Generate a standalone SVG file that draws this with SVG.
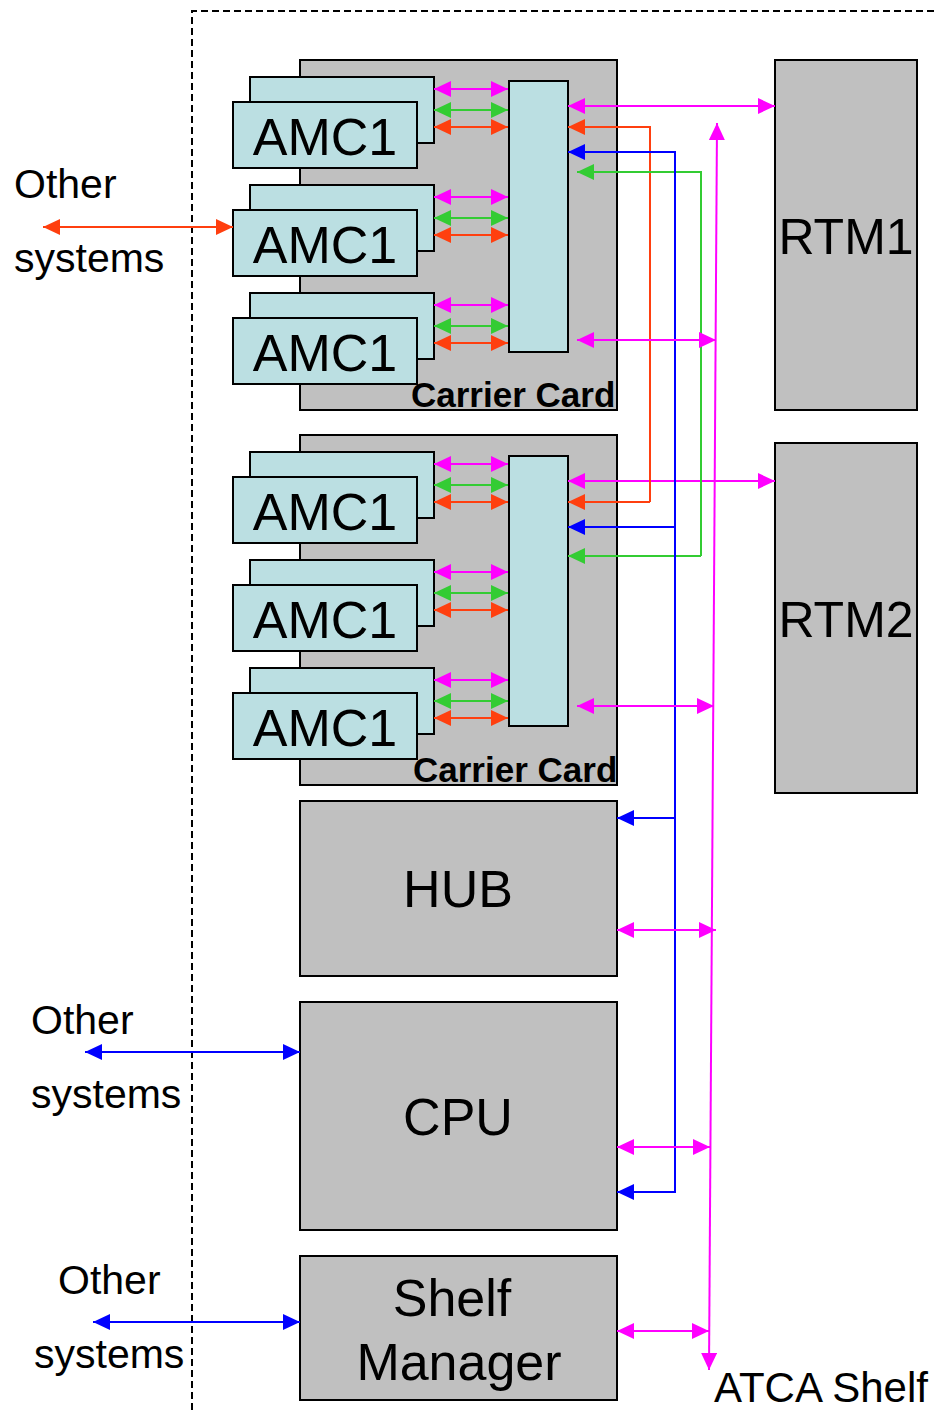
<svg xmlns="http://www.w3.org/2000/svg" width="935" height="1410" viewBox="0 0 935 1410">
  <style>
    .card { fill: #C0C0C0; stroke: #000; stroke-width: 2; }
    .amc { fill: #BBDFE2; stroke: #000; stroke-width: 2; }
    .lbl { font-family: "Liberation Sans", Arial, sans-serif; fill: #000; }
    .big { font-size: 52px; text-anchor: middle; }
    .rtm { font-size: 50px; text-anchor: middle; }
    .amct { font-size: 52px; text-anchor: middle; }
    .cc { font-size: 35px; font-weight: bold; }
    .side { font-size: 41px; }
    .atca { font-size: 42px; }
    .w { fill: none; stroke-width: 2; }
    .m { stroke: #FF00FF; }
    .g { stroke: #33CC33; }
    .r { stroke: #FF3F0F; }
    .b { stroke: #0000FF; }
  </style>
  <defs>
    <marker id="hm" markerUnits="userSpaceOnUse" markerWidth="18" markerHeight="18" refX="17" refY="8" orient="auto-start-reverse">
      <path d="M0,0 L17,8 L0,16 z" fill="#FF00FF"/>
    </marker>
    <marker id="hg" markerUnits="userSpaceOnUse" markerWidth="18" markerHeight="18" refX="17" refY="8" orient="auto-start-reverse">
      <path d="M0,0 L17,8 L0,16 z" fill="#33CC33"/>
    </marker>
    <marker id="hr" markerUnits="userSpaceOnUse" markerWidth="18" markerHeight="18" refX="17" refY="8" orient="auto-start-reverse">
      <path d="M0,0 L17,8 L0,16 z" fill="#FF3F0F"/>
    </marker>
    <marker id="hb" markerUnits="userSpaceOnUse" markerWidth="18" markerHeight="18" refX="17" refY="8" orient="auto-start-reverse">
      <path d="M0,0 L17,8 L0,16 z" fill="#0000FF"/>
    </marker>
    <!-- one AMC module: rear board plus front board with label -->
    <g id="amcPair">
      <rect class="amc" x="250" y="77" width="184" height="66"/>
      <rect class="amc" x="233" y="102" width="184" height="66"/>
      <text class="lbl amct" x="325" y="155">AMC1</text>
    </g>
    <!-- the three links from one AMC to the carrier switch -->
    <g id="amcLinks">
      <line class="w m" x1="434" y1="89" x2="508" y2="89" marker-start="url(#hm)" marker-end="url(#hm)"/>
      <line class="w g" x1="434" y1="110" x2="508" y2="110" marker-start="url(#hg)" marker-end="url(#hg)"/>
      <line class="w r" x1="434" y1="127" x2="508" y2="127" marker-start="url(#hr)" marker-end="url(#hr)"/>
    </g>
  </defs>

  <!-- shelf boundary -->
  <path d="M192,1410 L192,11 L935,11" fill="none" stroke="#000" stroke-width="2" stroke-dasharray="7 4"/>

  <g id="carrier1">
    <rect class="card" x="300" y="60" width="317" height="350"/>
    <use href="#amcPair"/>
    <use href="#amcPair" y="108"/>
    <use href="#amcPair" y="216"/>
    <rect class="amc" x="509" y="81" width="59" height="271"/>
    <text class="lbl cc" x="411" y="407">Carrier Card</text>
  </g>

  <g id="carrier2">
    <rect class="card" x="300" y="435" width="317" height="350"/>
    <use href="#amcPair" y="375"/>
    <use href="#amcPair" y="483"/>
    <use href="#amcPair" y="591"/>
    <rect class="amc" x="509" y="456" width="59" height="270"/>
    <text class="lbl cc" x="413" y="782">Carrier Card</text>
  </g>

  <g id="rtm1">
    <rect class="card" x="775" y="60" width="142" height="350"/>
    <text class="lbl rtm" x="846" y="254">RTM1</text>
  </g>
  <g id="rtm2">
    <rect class="card" x="775" y="443" width="142" height="350"/>
    <text class="lbl rtm" x="846" y="637">RTM2</text>
  </g>

  <g id="hub">
    <rect class="card" x="300" y="801" width="317" height="175"/>
    <text class="lbl big" x="458" y="907">HUB</text>
  </g>
  <g id="cpu">
    <rect class="card" x="300" y="1002" width="317" height="228"/>
    <text class="lbl big" x="458" y="1135">CPU</text>
  </g>
  <g id="shelfManager">
    <rect class="card" x="300" y="1256" width="317" height="144"/>
    <text class="lbl big" x="452" y="1316">Shelf</text>
    <text class="lbl big" x="459" y="1380">Manager</text>
  </g>

  <g id="external">
    <text class="lbl side" x="14" y="198">Other</text>
    <text class="lbl side" x="14" y="272">systems</text>
    <text class="lbl side" x="31" y="1034">Other</text>
    <text class="lbl side" x="31" y="1108">systems</text>
    <text class="lbl side" x="58" y="1294">Other</text>
    <text class="lbl side" x="34" y="1368">systems</text>
    <text class="lbl atca" x="714" y="1402">ATCA Shelf</text>
  </g>

  <g id="connectors">
    <!-- AMC to carrier switch -->
    <use href="#amcLinks"/>
    <use href="#amcLinks" y="108"/>
    <use href="#amcLinks" y="216"/>
    <use href="#amcLinks" y="375"/>
    <use href="#amcLinks" y="483"/>
    <use href="#amcLinks" y="591"/>

    <!-- external links -->
    <line class="w r" x1="43" y1="227" x2="233" y2="227" marker-start="url(#hr)" marker-end="url(#hr)"/>
    <line class="w b" x1="85" y1="1052" x2="300" y2="1052" marker-start="url(#hb)" marker-end="url(#hb)"/>
    <line class="w b" x1="93" y1="1322" x2="300" y2="1322" marker-start="url(#hb)" marker-end="url(#hb)"/>

    <!-- carrier to RTM -->
    <line class="w m" x1="568" y1="106" x2="775" y2="106" marker-start="url(#hm)" marker-end="url(#hm)"/>
    <line class="w m" x1="568" y1="481" x2="775" y2="481" marker-start="url(#hm)" marker-end="url(#hm)"/>

    <!-- carrier-to-carrier links -->
    <polyline class="w r" points="650,502 650,127 568,127" marker-end="url(#hr)"/>
    <line class="w r" x1="650" y1="502" x2="568" y2="502" marker-end="url(#hr)"/>
    <polyline class="w g" points="701,556 701,172 577,172" marker-end="url(#hg)"/>
    <line class="w g" x1="701" y1="556" x2="568" y2="556" marker-end="url(#hg)"/>

    <!-- blue bus from CPU -->
    <polyline class="w b" points="568,152 675,152 675,1192 617,1192" marker-start="url(#hb)" marker-end="url(#hb)"/>
    <line class="w b" x1="675" y1="527" x2="568" y2="527" marker-end="url(#hb)"/>
    <line class="w b" x1="675" y1="818" x2="617" y2="818" marker-end="url(#hb)"/>

    <!-- magenta backplane -->
    <line class="w m" x1="717" y1="123" x2="709" y2="1370" marker-start="url(#hm)" marker-end="url(#hm)"/>
    <line class="w m" x1="577" y1="340" x2="716" y2="340" marker-start="url(#hm)" marker-end="url(#hm)"/>
    <line class="w m" x1="577" y1="706" x2="714" y2="706" marker-start="url(#hm)" marker-end="url(#hm)"/>
    <line class="w m" x1="617" y1="930" x2="716" y2="930" marker-start="url(#hm)" marker-end="url(#hm)"/>
    <line class="w m" x1="617" y1="1147" x2="710" y2="1147" marker-start="url(#hm)" marker-end="url(#hm)"/>
    <line class="w m" x1="617" y1="1331" x2="709" y2="1331" marker-start="url(#hm)" marker-end="url(#hm)"/>
  </g>
</svg>
